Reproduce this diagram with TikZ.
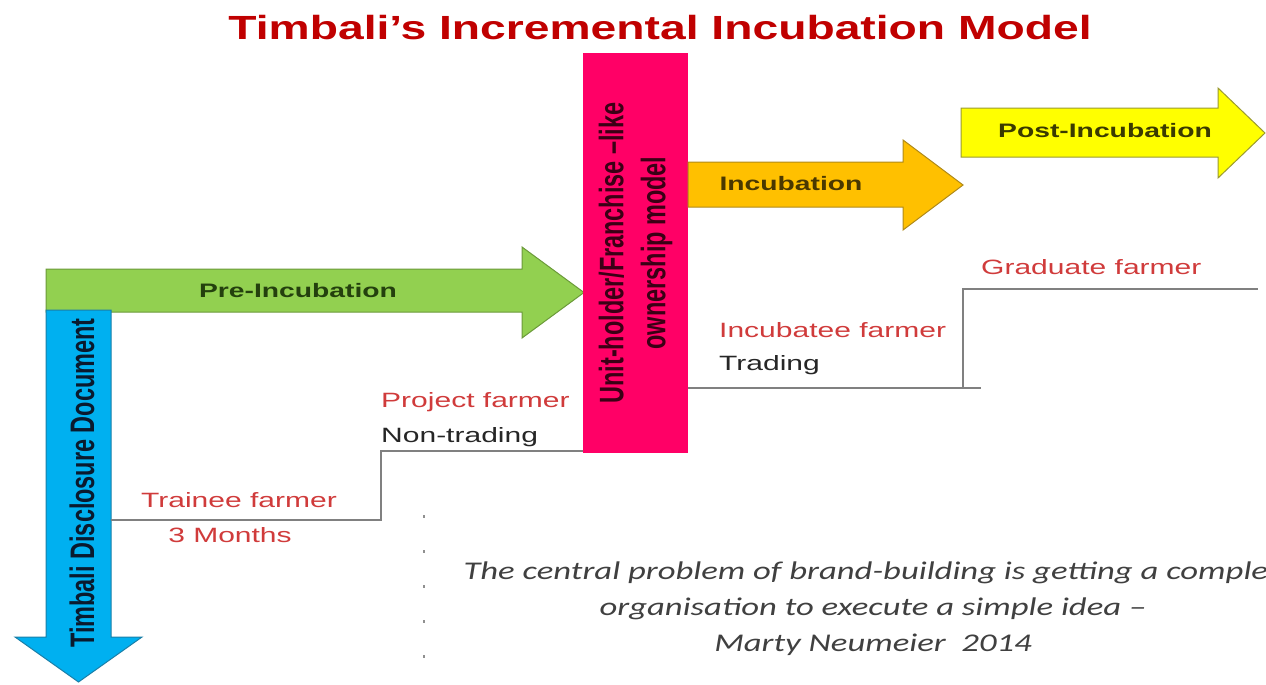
\documentclass[tikz,border=0pt]{standalone}
\usepackage{fontspec}
\setmainfont{Liberation Sans}
\newfontfamily\widefont[FakeStretch=1.45]{Liberation Sans}
\newfontfamily\titlefont[FakeStretch=1.38]{Liberation Sans}
\newfontfamily\tallfont[FakeStretch=0.69]{Liberation Sans}
\newfontfamily\quotefont[FakeStretch=1.36]{Carlito}
\definecolor{titlered}{HTML}{C00000}
\definecolor{labred}{HTML}{D03B3B}
\definecolor{labdark}{HTML}{262626}
\definecolor{greenc}{HTML}{92D050}
\definecolor{greenb}{HTML}{6B9A3A}
\definecolor{greent}{HTML}{24400E}
\definecolor{bluec}{HTML}{00B0F0}
\definecolor{blueb}{HTML}{1A7FA8}
\definecolor{bluet}{HTML}{0A1A2E}
\definecolor{pinkc}{HTML}{FF0066}
\definecolor{pinkt}{HTML}{3A0015}
\definecolor{orangec}{HTML}{FFC000}
\definecolor{orangeb}{HTML}{B08A1A}
\definecolor{oranget}{HTML}{4A3800}
\definecolor{yellowc}{HTML}{FFFF00}
\definecolor{yellowb}{HTML}{9A9A30}
\definecolor{yellowt}{HTML}{3A3A00}
\definecolor{stairc}{HTML}{808080}
\definecolor{quotec}{HTML}{404040}
\definecolor{dotc}{HTML}{909090}
\begin{document}
\begin{tikzpicture}[x=1pt,y=-1pt,
  lab/.style={inner sep=0pt, font=\widefont\fontsize{20.7}{24}\selectfont},
  redlab/.style={lab, text=labred},
  darklab/.style={lab, text=labdark},
  arwlab/.style={inner sep=0pt, font=\widefont\bfseries\fontsize{19.5}{22}\selectfont},
  stair/.style={draw=stairc, line width=2pt},
  arrowshape/.style={line width=1pt, line join=miter}]
\useasboundingbox (0,0) rectangle (1266,685);
\clip (0,0) rectangle (1266,685);

% title
\node[inner sep=0pt, text=titlered, font=\titlefont\bfseries\fontsize{33.5}{38}\selectfont] (title) at (660,28) {Timbali’s Incremental Incubation Model};

% green arrow (Pre-Incubation)
\filldraw[arrowshape, fill=greenc, draw=greenb] (46,269) -- (522,269) -- (522,247) -- (584,292.5) -- (522,338) -- (522,312) -- (46,312) -- cycle;
\node[arwlab, text=greent] (pre) at (298,291) {Pre-Incubation};

% blue arrow (down)
\filldraw[arrowshape, fill=bluec, draw=blueb] (46,310) -- (111,310) -- (111,637) -- (142,637) -- (78.5,682) -- (15,637) -- (46,637) -- cycle;
\node[rotate=90, inner sep=0pt, text=bluet, font=\tallfont\bfseries\fontsize{34}{40}\selectfont] (tdd) at (82,483) {Timbali Disclosure Document};

% pink box
\node[fill=pinkc, minimum width=105pt, minimum height=400pt, inner sep=0pt] (unit) at (635.5,253) {};
\node[rotate=90, align=center, inner sep=0pt, text=pinkt, font=\tallfont\bfseries\fontsize{34}{42}\selectfont] (unittext) at (unit.center) {Unit-holder/Franchise –like\\ownership model};

% orange arrow (Incubation)
\filldraw[arrowshape, fill=orangec, draw=orangeb] (688,162) -- (903,162) -- (903,140) -- (963,185) -- (903,230) -- (903,207) -- (688,207) -- cycle;
\node[arwlab, text=oranget] (inc) at (791,184) {Incubation};

% yellow arrow (Post-Incubation)
\filldraw[arrowshape, fill=yellowc, draw=yellowb] (961,108) -- (1218,108) -- (1218,88) -- (1265,133) -- (1218,178) -- (1218,157) -- (961,157) -- cycle;
\node[arwlab, text=yellowt] (post) at (1105,131) {Post-Incubation};

% staircase 1
\coordinate (s1a) at (111,520);
\coordinate (s1b) at (381,520);
\coordinate (s1c) at (381,451);
\coordinate (s1d) at (unit.west |- 0,451);
\draw[stair] (s1a) -- (s1b) -- (s1c) -- (s1d);

% staircase 2
\coordinate (s2a) at (unit.east |- 0,388);
\coordinate (s2b) at (981,388);
\coordinate (s2c) at (963,388);
\coordinate (s2d) at (963,289);
\coordinate (s2e) at (1258,289);
\draw[stair] (s2a) -- (s2b);
\draw[stair] (s2c) -- (s2d) -- (s2e);

% labels
\node[redlab] (trainee) at (239,500) {Trainee farmer};
\node[redlab] (months) at (230,535) {3 Months};
\node[redlab, anchor=west] (project) at (381,402) {Project farmer};
\node[darklab, anchor=west] (nontrading) at (381,437) {Non-trading};
\node[redlab, anchor=west] (incubatee) at (719,330) {Incubatee farmer};
\node[darklab, anchor=west] (trading) at (719,365) {Trading};
\node[redlab, anchor=west] (graduate) at (981,267) {Graduate farmer};

% dotted line
\coordinate (dtop) at (424,515);
\coordinate (dbot) at (424,660);
\draw[dotc, line width=1.3pt, dash pattern=on 3pt off 32pt] (dtop) -- (dbot);

% quote
\node[align=center, inner sep=0pt, text=quotec, font=\quotefont\itshape\fontsize{25.5}{36}\selectfont] (quote) at (873,609) {The central problem of brand-building is getting a complex\\organisation to execute a simple idea –\\Marty Neumeier\ \ 2014};
\end{tikzpicture}
\end{document}
